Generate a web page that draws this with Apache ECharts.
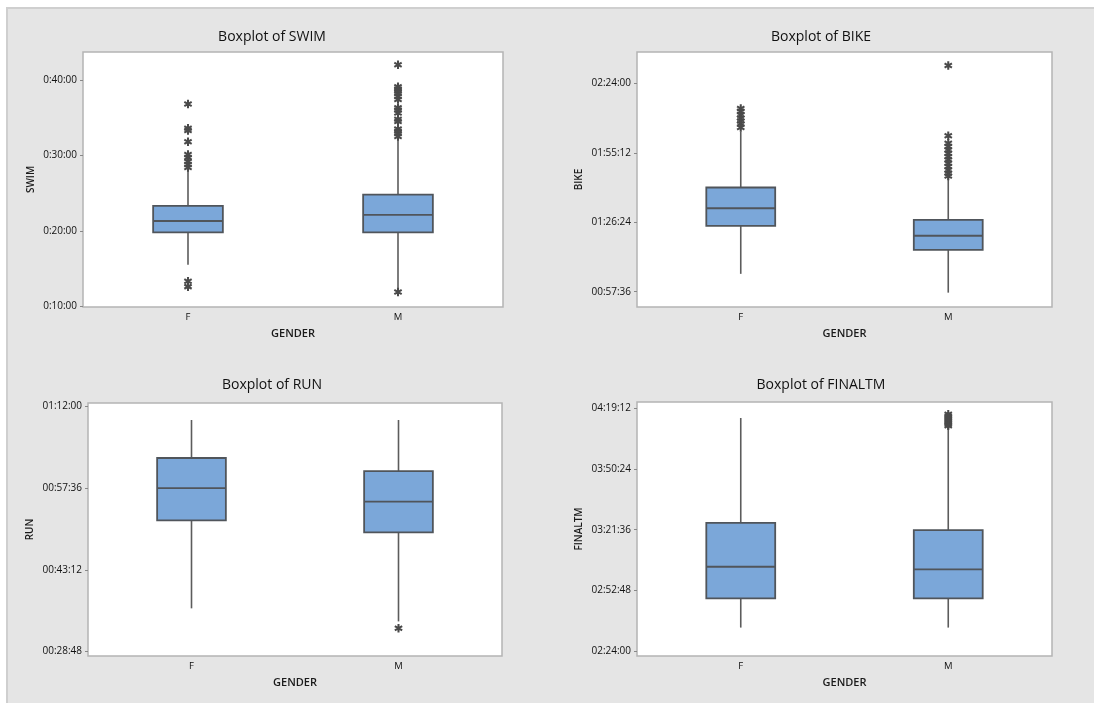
<!DOCTYPE html>
<html>
<head>
<meta charset="utf-8">
<title>Boxplots by gender</title>
<script src="https://cdn.jsdelivr.net/npm/echarts@6/dist/echarts.min.js"></script>
<style>
  html, body { margin: 0; background: #fff; }
  #chart { width: 1094px; height: 703px; }
</style>
</head>
<body>
<div id="chart"></div>
<script>
const genders = ['F', 'M'];

// all times in minutes; boxes are [low whisker, Q1, median, Q3, high whisker]
const swimTicks = ['0:10:00', '0:20:00', '0:30:00', '0:40:00'];
const swimBoxF = [15.5, 19.8, 21.3, 23.3, 28.1];
const swimBoxM = [12.2, 19.8, 22.1, 24.8, 32.3];
const swimOutF = [36.8, 33.6, 33.3, 31.8, 30.1, 29.7, 29.2, 28.8, 28.4, 13.3, 12.6];
const swimOutM = [42.0, 39.1, 38.8, 38.5, 38.2, 37.8, 37.4, 36.3, 36.0, 35.6, 34.8, 34.5,
  33.5, 33.2, 32.9, 32.5, 11.9];

const bikeTicks = ['00:57:36', '01:26:24', '01:55:12', '02:24:00'];
const bikeBoxF = [65.0, 84.9, 92.2, 100.8, 124.0];
const bikeBoxM = [57.2, 74.9, 80.8, 87.4, 104.8];
const bikeOutF = [133.6, 132.4, 130.9, 129.6, 128.4, 127.2, 125.7];
const bikeOutM = [151.4, 122.3, 119.2, 117.8, 116.4, 115.0, 113.6, 112.3, 110.9, 109.5,
  108.1, 106.7, 105.6];

const runTicks = ['00:28:48', '00:43:12', '00:57:36', '01:12:00'];
const runBoxF = [36.4, 51.9, 57.6, 62.9, 69.6];
const runBoxM = [34.1, 49.8, 55.2, 60.6, 69.6];
const runOutF = [];
const runOutM = [32.9];

const finalTicks = ['02:24:00', '02:52:48', '03:21:36', '03:50:24', '04:19:12'];
const finalBoxF = [155.1, 169.0, 184.0, 204.9, 254.7];
const finalBoxM = [155.1, 169.0, 182.8, 201.4, 250.4];
const finalOutF = [];
const finalOutM = [256.5, 255.5, 254.6, 253.6, 252.7, 251.7, 251.0];

const toMin = (s) => {
  const p = s.split(':').map(Number);
  return p[0] * 60 + p[1] + p[2] / 60;
};

const panels = [
  { name: 'SWIM', ticks: swimTicks, boxes: [swimBoxF, swimBoxM], outs: [swimOutF, swimOutM],
    min: 9.9, max: 43.7, grid: { left: 83, top: 52, width: 420, height: 255 },
    title: [267, 25], nameGap: 47 },
  { name: 'BIKE', ticks: bikeTicks, boxes: [bikeBoxF, bikeBoxM], outs: [bikeOutF, bikeOutM],
    min: 51.25, max: 157.0, grid: { left: 637, top: 52, width: 415, height: 255 },
    title: [816, 25], nameGap: 53 },
  { name: 'RUN', ticks: runTicks, boxes: [runBoxF, runBoxM], outs: [runOutF, runOutM],
    min: 28.0, max: 72.6, grid: { left: 88, top: 403, width: 414, height: 253 },
    title: [267, 373], nameGap: 53 },
  { name: 'FINALTM', ticks: finalTicks, boxes: [finalBoxF, finalBoxM], outs: [finalOutF, finalOutM],
    min: 141.6, max: 262.3, grid: { left: 637, top: 402, width: 415, height: 254 },
    title: [816, 373], nameGap: 53 }
];

const font = "'Open Sans', 'Noto Sans', sans-serif";
const edge = '#50555b';

const renderBox = (params, api) => {
  const x = api.value(0);
  const low = api.coord([x, api.value(1)]);
  const q1 = api.coord([x, api.value(2)]);
  const med = api.coord([x, api.value(3)]);
  const q3 = api.coord([x, api.value(4)]);
  const high = api.coord([x, api.value(5)]);
  const half = api.size([1, 0])[0] * 0.166;
  const cx = low[0];
  const whisker = { stroke: '#5c5c5c', lineWidth: 1.6 };
  return {
    type: 'group',
    children: [
      { type: 'line', shape: { x1: cx, y1: high[1], x2: cx, y2: q3[1] }, style: whisker },
      { type: 'line', shape: { x1: cx, y1: q1[1], x2: cx, y2: low[1] }, style: whisker },
      { type: 'rect',
        shape: { x: cx - half, y: q3[1], width: half * 2, height: q1[1] - q3[1] },
        style: { fill: '#7ba7d9', stroke: edge, lineWidth: 1.8 } },
      { type: 'line', shape: { x1: cx - half, y1: med[1], x2: cx + half, y2: med[1] },
        style: { stroke: edge, lineWidth: 1.8 } }
    ]
  };
};

// six-armed asterisk used by the outliers
const asterisk = 'path://M-2.4 10L2.4 10L2.4 -10L-2.4 -10Z' +
  'M7.46 7.08L9.86 2.92L-7.46 -7.08L-9.86 -2.92Z' +
  'M-9.86 2.92L-7.46 7.08L9.86 -2.92L7.46 -7.08Z';

const chart = echarts.init(document.getElementById('chart'), null, { renderer: 'canvas' });

const option = {
  animation: false,
  textStyle: { fontFamily: font },
  graphic: [{
    type: 'rect', z: -10,
    shape: { x: 7, y: 8, width: 1100, height: 700 },
    style: { fill: '#e5e5e5', stroke: '#cfcfcf', lineWidth: 2 }
  }],
  title: panels.map((p) => ({
    text: 'Boxplot of ' + p.name,
    left: p.title[0], top: p.title[1], textAlign: 'center',
    textStyle: { fontSize: 14, fontWeight: 'normal', color: '#111', fontFamily: font }
  })),
  grid: panels.map((p) => Object.assign({
    show: true, backgroundColor: '#fff', borderColor: '#b4b4b4', borderWidth: 1.5
  }, p.grid)),
  xAxis: panels.map((p, i) => ({
    type: 'category', gridIndex: i, data: genders,
    name: 'GENDER', nameLocation: 'middle', nameGap: 21,
    nameTextStyle: { fontSize: 11, fontWeight: 600, color: '#1a1a1a' },
    axisLine: { show: false },
    axisTick: { alignWithLabel: true, length: 3, lineStyle: { color: '#888' } },
    axisLabel: { fontSize: 9.5, color: '#111', margin: 5 },
    splitLine: { show: false }
  })),
  yAxis: panels.map((p, i) => {
    const vals = p.ticks.map(toMin);
    return {
      type: 'value', gridIndex: i, min: p.min, max: p.max,
      name: p.name, nameLocation: 'middle', nameGap: p.nameGap,
      nameTextStyle: { fontSize: 10, fontWeight: 600, color: '#1a1a1a' },
      axisLine: { show: false },
      axisTick: { show: true, length: 3, customValues: vals, lineStyle: { color: '#888' } },
      axisLabel: {
        fontSize: 10, color: '#111', margin: 6, customValues: vals,
        formatter: (v) => {
          let best = 0;
          vals.forEach((t, k) => { if (Math.abs(t - v) < Math.abs(vals[best] - v)) best = k; });
          return p.ticks[best];
        }
      },
      splitLine: { show: false }
    };
  }),
  series: panels.flatMap((p, i) => [
    {
      type: 'custom', xAxisIndex: i, yAxisIndex: i,
      renderItem: renderBox,
      encode: { x: 0, y: [1, 2, 3, 4, 5] },
      data: p.boxes.map((b, k) => [k].concat(b)),
      z: 2
    },
    {
      type: 'scatter', xAxisIndex: i, yAxisIndex: i,
      symbol: asterisk, symbolSize: 8.5, symbolKeepAspect: true,
      itemStyle: { color: '#4a4a4a', opacity: 1 },
      data: p.outs.flatMap((arr, k) => arr.map((v) => [k, v])),
      z: 3
    }
  ])
};

chart.setOption(option);
</script>
</body>
</html>
